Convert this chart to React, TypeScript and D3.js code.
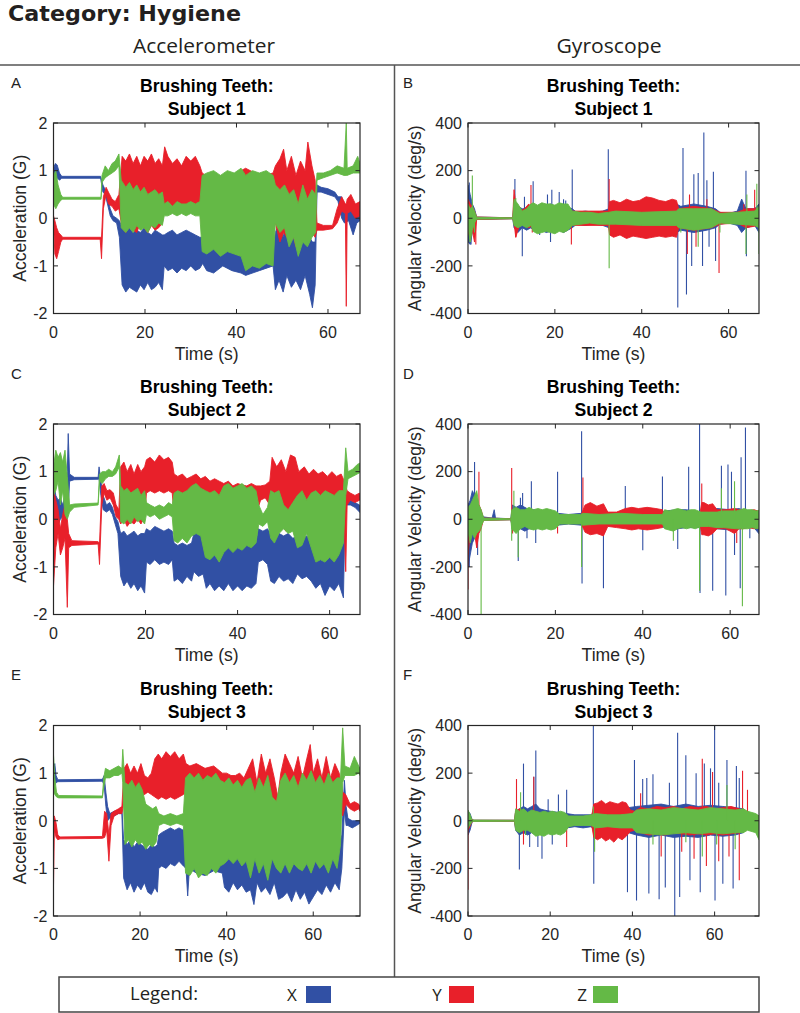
import React from 'react';
import * as d3 from 'd3';

type Env = [number, number, number][]; // [time, low, high]
type Spk = [number, number][]; // [time, value]

const SERIES = ['X', 'Y', 'Z'];
const SERIES_COLORS = ['#3150a4', '#e8202a', '#64b946'];
const X_TICKS = [0, 20, 40, 60];
const ACC_TICKS = [-2, -1, 0, 1, 2];
const GYRO_TICKS = [-400, -200, 0, 200, 400];
const SUBJECTS = ['Subject 1', 'Subject 2', 'Subject 3'];
const LETTERS = ['A', 'B', 'C', 'D', 'E', 'F'];
const DURATIONS = [67, 66.6, 70.8];

// ---------- Panel A: accelerometer, subject 1 ----------
const A_X: Env = [
  [0, 0.75, 1.05], [0.4, 0.7, 1.15], [0.8, 0.85, 1.12], [1.3, 0.8, 0.95], [1.8, 0.84, 0.88], [10.3, 0.84, 0.88],
  [10.8, 0.55, 0.7], [11.3, 0.5, 0.6], [11.8, 0.3, 0.45], [12.4, 0.05, 0.2], [13, -0.05, 0.05], [13.8, -0.1, 0.0],
  [14.4, -0.4, -0.05], [15, -1.4, -0.2], [15.8, -1.55, -0.25], [16.6, -1.45, -0.2], [17.4, -1.5, -0.3],
  [18.2, -1.55, -0.25], [19, -1.4, -0.3], [19.8, -1.5, -0.2], [20.6, -1.35, -0.3], [21.4, -1.5, -0.35],
  [22.2, -1.45, -0.25], [23, -1.35, -0.3], [23.8, -1.5, -0.35], [24.2, -1.0, -0.35], [25, -1.1, -0.3],
  [26, -1.05, -0.25], [27, -1.15, -0.35], [28, -1.05, -0.3], [29, -1.1, -0.25], [30, -1.0, -0.3], [31, -1.1, -0.35],
  [32, -1.05, -0.4], [32.6, -0.95, -0.4], [33.5, -1.1, -0.4], [35, -1.15, -0.4], [37, -1.0, -0.45], [39, -1.1, -0.4],
  [41, -1.15, -0.5], [42, -1.2, -0.6], [45, -1.1, -0.6], [48, -1.0, -0.6], [48.5, -1.5, -0.3], [49.3, -1.3, -0.1],
  [50.2, -1.55, -0.4], [51, -1.2, 0.0], [52, -1.45, -0.3], [53, -1.3, -0.05], [54, -1.5, -0.35], [55, -1.2, 0.0],
  [56, -1.6, -0.4], [56.6, -1.88, -0.5], [57.2, -1.4, -0.5], [57.6, 0.55, 0.7], [58.5, 0.55, 0.65], [60, 0.5, 0.62],
  [61.5, 0.45, 0.55], [62.2, 0.35, 0.45], [63, 0.0, 0.45], [63.6, -0.1, 0.1], [64.5, -0.05, 0.25], [65.5, -0.35, 0.2],
  [66.3, -0.1, 0.1], [67, -0.05, 0.05],
];
const A_Y: Env = [
  [0, -0.1, 0.05], [0.3, -0.75, -0.05], [0.7, -0.85, -0.2], [1.1, -0.7, -0.3], [1.6, -0.5, -0.35], [2, -0.44, -0.4],
  [10.2, -0.44, -0.4], [10.5, -0.85, -0.4], [10.9, 0.2, 0.45], [11.5, 0.5, 0.65], [12, 0.3, 0.55], [12.8, 0.25, 0.4],
  [13.5, 0.15, 0.35], [14.3, 0.2, 0.5], [15, -0.2, 1.3], [15.8, -0.3, 1.2], [16.6, -0.1, 1.35], [17.4, -0.25, 1.15],
  [18.2, -0.3, 1.3], [19, -0.1, 1.1], [19.8, -0.2, 1.3], [20.6, -0.3, 1.2], [21.4, -0.15, 1.35], [22.2, -0.25, 1.15],
  [23, -0.2, 1.25], [23.8, -0.1, 1.1], [24.3, 0.3, 1.5], [25, 0.35, 1.3], [26, 0.25, 1.15], [27, 0.3, 1.25],
  [28, 0.25, 1.1], [29, 0.3, 1.3], [30, 0.25, 1.2], [31, 0.3, 1.3], [32, 0.25, 1.1], [32.5, -0.3, 0.95],
  [34, -0.4, 0.85], [36, -0.3, 0.9], [38, -0.4, 0.85], [40, -0.3, 0.95], [42, -0.4, 1.05], [44, -0.3, 0.95],
  [46, -0.4, 0.9], [48, -0.2, 0.95], [48.5, -0.1, 1.1], [49.5, -0.5, 1.25], [50.3, -0.3, 1.45], [51, -0.4, 1.0],
  [52, -0.2, 1.3], [53, -0.6, 0.9], [54, -0.3, 1.2], [55, -0.5, 1.0], [55.6, -0.4, 1.6], [56.5, -0.3, 1.1],
  [57.2, -0.4, 0.8], [57.6, -0.25, -0.1], [59, -0.25, -0.15], [61, -0.22, -0.15], [62, -0.1, 0.2], [63, 0.15, 0.45],
  [63.8, 0.1, 0.3], [64, -1.85, 0.3], [64.2, 0.1, 0.4], [65, 0.15, 0.5], [66, 0.0, 0.3], [67, 0.05, 0.35],
];
const A_Z: Env = [
  [0, 0.3, 0.9], [0.5, 0.2, 1.0], [1, 0.3, 0.7], [1.6, 0.38, 0.5], [2, 0.4, 0.44], [10.4, 0.4, 0.44],
  [10.6, 0.75, 0.9], [11.3, 0.85, 1.1], [12, 0.9, 1.0], [12.8, 0.95, 1.15], [13.5, 1.0, 1.2], [14.3, 1.1, 1.35],
  [14.8, -0.2, 0.8], [15.8, -0.3, 0.65], [16.6, -0.2, 0.75], [17.4, -0.3, 0.6], [18.2, -0.15, 0.7], [19, -0.25, 0.55],
  [19.8, -0.2, 0.65], [20.6, -0.3, 0.5], [21.4, -0.15, 0.55], [22.2, -0.2, 0.6], [23, -0.1, 0.5], [23.8, -0.15, 0.55],
  [24.2, 0.05, 0.3], [25, 0.05, 0.35], [26, 0.1, 0.25], [27, 0.05, 0.35], [28, 0.1, 0.3], [29, 0.05, 0.3],
  [30, 0.1, 0.35], [31, 0.05, 0.3], [32, 0.05, 0.35], [32.5, -0.7, 0.9], [33.5, -0.75, 0.95], [35, -0.65, 1.0],
  [36.5, -0.8, 0.9], [38, -0.7, 1.0], [39.5, -0.75, 0.95], [41, -0.8, 1.05], [42, -1.1, 0.9], [43.5, -1.0, 1.0],
  [45, -1.05, 0.95], [46.5, -0.95, 1.0], [48, -1.0, 0.9], [48.5, -0.1, 0.7], [49.5, -0.3, 0.6], [50.5, -0.2, 0.7],
  [51.5, -0.6, 0.5], [52.5, -0.4, 0.6], [53.5, -0.8, 0.3], [54.5, -0.5, 0.7], [55.5, -0.6, 0.4], [56.5, -0.4, 0.6],
  [57.3, -0.3, 0.5], [57.6, 0.8, 0.95], [59, 0.85, 0.95], [60.5, 0.9, 1.0], [62, 0.95, 1.1], [63.5, 0.9, 1.05],
  [64, 0.9, 2.0], [64.2, 0.9, 1.05], [65.5, 0.95, 1.1], [66.5, 0.95, 1.3], [67, 0.95, 1.15],
];

// ---------- Panel B: gyroscope, subject 1 ----------
const B_X: Env = [
  [0, -100, 140], [0.5, -110, 100], [1, -60, 60], [1.5, -30, 40], [2, -5, 5], [10.3, -2, 2], [10.6, -40, 60],
  [11.5, -60, 50], [12.5, -40, 40], [13.5, -50, 40], [14.5, -40, 60], [15, -50, 50], [16, -60, 50], [17, -50, 60],
  [18, -60, 55], [19, -55, 60], [20, -60, 50], [21, -50, 55], [22, -60, 50], [23, -50, 45], [24, -40, 40],
  [25, -25, 25], [27, -30, 30], [29, -25, 25], [31, -30, 30], [32.5, -40, 40], [34, -60, 60], [40, -55, 60],
  [48, -60, 60], [49, -50, 50], [52, -60, 60], [55, -50, 50], [57, -40, 40], [58, -25, 25], [60, -20, 20],
  [62, -30, 30], [63, -60, 80], [64, -40, 40], [66, -30, 40], [67, -60, 60],
];
const B_X_SPIKES: Spk = [
  [0.3, 150], [0.7, -110], [10.8, 165], [12.5, -160], [13, 90], [15, 155], [16.5, -70], [18.3, 100], [19.3, 120],
  [19, -100], [21, 110], [22, 80], [22.5, 75], [24, 205], [32.3, 290], [48.3, -375], [49.5, 295], [50.3, -320],
  [51.5, -200], [52, 185], [53, 190], [54, -200], [54.3, 360], [55, 160], [55.5, -120], [56.5, 195], [57, -180],
  [63, 80], [64, 200], [64.1, -160],
];
const B_Y: Env = [
  [0, -60, 80], [0.5, -80, 60], [1, -50, 50], [1.5, -100, 30], [2, -5, 5], [10.3, -2, 2], [10.6, -20, 120],
  [11, -80, 60], [12, -20, 30], [13, -30, 40], [14, -40, 60], [15, -30, 30], [24, -30, 30], [32.3, -30, 30],
  [32.6, -70, 70], [33.5, -80, 75], [35, -70, 65], [36.5, -85, 80], [38, -75, 70], [39.5, -80, 75], [41, -85, 90],
  [42.5, -80, 85], [44, -75, 75], [45.5, -80, 70], [47, -75, 80], [48, -80, 75], [48.5, -40, 40], [52, -50, 50],
  [56, -40, 40], [58, -25, 25], [62, -20, 25], [64, -40, 40], [67, -30, 40],
];
const B_Y_SPIKES: Spk = [
  [1.8, -110], [11, -80], [14.5, 140], [14.8, -60], [23.8, -110], [32.5, 165], [50.5, -150], [51, 100],
  [52.5, -120], [55, 80], [57.8, -230], [63.5, 60], [66, 120],
];
const B_Z: Env = [
  [0, -40, 60], [0.5, -100, 40], [1, -50, 50], [1.5, -20, 30], [2, -4, 4], [10.3, -2, 2], [10.6, -30, 80],
  [11.5, -40, 60], [12.5, -30, 30], [13.5, -40, 40], [14.5, -30, 60], [15, -55, 65], [16, -65, 55], [17, -60, 65],
  [18, -55, 60], [19, -60, 60], [20, -65, 55], [21, -55, 65], [22, -60, 60], [23, -50, 60], [24, -30, 30],
  [26, -25, 25], [28, -20, 25], [30, -25, 20], [32.4, -25, 25], [34, -25, 30], [40, -30, 25], [48, -30, 30],
  [48.5, -40, 40], [52, -50, 40], [56, -40, 40], [58, -20, 20], [62, -25, 25], [66, -30, 30], [67, -40, 50],
];
const B_Z_SPIKES: Spk = [
  [0.5, -100], [1, 180], [1.5, -60], [11, 85], [32.5, -210], [49, -60], [53, -120], [58, -60], [64, -150],
  [64.2, 100], [66.5, 145], [67, -150],
];

// ---------- Panel C: accelerometer, subject 2 ----------
const C_X: Env = [
  [0, 0.3, 0.8], [0.5, 0.1, 0.5], [1, -0.1, 0.4], [1.5, 0.0, 0.45], [2, 0.05, 0.3], [2.5, 0.2, 0.5], [3, 0.1, 1.0],
  [3.2, 0.2, 1.8], [3.5, 0.8, 0.95], [4.5, 0.83, 0.88], [9.7, 0.84, 0.88], [9.9, 0.85, 1.1], [10.3, 0.5, 0.8],
  [10.8, 0.2, 0.5], [11.5, 0.15, 0.3], [12.2, 0.2, 0.35], [12.8, 0.1, 0.25], [13.4, -0.1, 0.05], [14, -0.3, -0.05],
  [14.6, -1.2, -0.3], [15.3, -1.4, -0.25], [16, -1.3, -0.35], [16.8, -1.45, -0.3], [17.5, -1.35, -0.25],
  [18.3, -1.5, -0.35], [19, -1.4, -0.3], [19.8, -1.55, -0.3], [20.2, -0.9, -0.2], [21, -0.95, -0.25],
  [22, -0.85, -0.15], [23, -0.95, -0.2], [24, -0.9, -0.25], [25, -0.95, -0.2], [25.8, -0.85, -0.25],
  [26.2, -1.3, -0.5], [27, -1.25, -0.55], [28, -1.35, -0.5], [29, -1.2, -0.55], [30, -1.3, -0.5], [30.5, -1.1, -0.3],
  [31.5, -1.2, -0.25], [32.5, -1.15, -0.35], [33.2, -1.45, -0.4], [34, -1.35, -0.5], [35, -1.5, -0.45],
  [36, -1.4, -0.5], [37, -1.5, -0.55], [38, -1.35, -0.45], [39, -1.5, -0.5], [40, -1.4, -0.45], [41, -1.5, -0.55],
  [42, -1.4, -0.5], [43, -1.45, -0.45], [44, -1.35, -0.5], [44.5, -0.9, -0.2], [45.5, -0.85, -0.25],
  [46.5, -0.95, -0.2], [47.2, -1.3, -0.3], [48, -1.35, -0.4], [49, -1.2, -0.3], [50, -1.3, -0.35], [51, -1.25, -0.3],
  [52, -1.35, -0.4], [53, -1.15, -0.35], [54, -1.25, -0.4], [55, -1.2, -0.35], [56, -1.3, -0.4], [57, -1.45, -0.35],
  [58, -1.35, -0.45], [59, -1.6, -0.4], [60, -1.4, -0.45], [61, -1.5, -0.4], [62, -1.35, -0.5], [63, -1.65, -0.4],
  [63.4, 0.3, 0.45], [64.5, 0.3, 0.4], [65.5, 0.25, 0.35], [66.5, 0.15, 0.3], [67, 0.1, 0.25],
];
const C_Y: Env = [
  [0, -1.4, 0.6], [0.5, -0.6, 0.4], [1, -0.3, 0.2], [1.5, -0.75, -0.2], [2, -0.6, 0.1], [2.5, -0.4, 0.3],
  [3, -1.85, 0.0], [3.3, -0.6, -0.3], [4, -0.55, -0.45], [9.7, -0.52, -0.47], [10, -0.95, -0.5], [10.5, 0.3, 0.7],
  [11, 0.55, 0.75], [11.6, 0.4, 0.6], [12.3, 0.45, 0.62], [13, 0.3, 0.55], [13.6, 0.05, 0.3], [14.2, 0.0, 0.2],
  [14.6, -0.1, 1.1], [15.3, 0.0, 1.2], [16, -0.15, 1.0], [16.8, -0.05, 1.15], [17.5, -0.1, 0.95], [18.3, 0.0, 1.15],
  [19, -0.1, 1.0], [19.8, 0.05, 1.1], [20.2, 0.55, 1.25], [21, 0.6, 1.3], [22, 0.55, 1.2], [23, 0.6, 1.35],
  [24, 0.55, 1.25], [25, 0.6, 1.3], [25.8, 0.55, 1.2], [26.2, 0.1, 0.95], [27, 0.2, 0.9], [28, 0.1, 0.95],
  [29, 0.2, 0.85], [30, 0.15, 0.9], [31, 0.2, 0.95], [32, 0.1, 0.85], [33, 0.2, 0.9], [34, 0.15, 0.8],
  [35, 0.2, 0.85], [36, 0.1, 0.8], [37, 0.2, 0.75], [38, 0.15, 0.8], [39, 0.2, 0.7], [40, 0.1, 0.75],
  [41, 0.2, 0.72], [42, 0.15, 0.7], [43, 0.2, 0.75], [44, 0.1, 0.7], [45, 0.4, 0.7], [46, 0.45, 0.72],
  [47, 0.3, 0.8], [47.5, 0.1, 1.3], [48.5, 0.0, 1.1], [49.5, -0.1, 1.25], [50.5, -0.25, 1.0], [51.5, -0.2, 1.35],
  [52.5, 0.0, 1.3], [53.3, 0.2, 1.0], [54.5, 0.1, 1.1], [55.5, 0.2, 0.95], [56.5, 0.1, 1.05], [57.5, 0.2, 0.95],
  [58.5, 0.1, 1.0], [59.5, 0.2, 0.9], [60.5, 0.15, 1.0], [61.5, 0.1, 0.9], [62.5, 0.2, 0.95], [63.2, -0.2, 0.8],
  [63.5, -1.1, 0.7], [63.8, 0.3, 0.6], [64.5, 0.4, 0.55], [65.5, 0.35, 0.5], [66.5, 0.4, 0.55], [67, 0.4, 0.5],
];
const C_Z: Env = [
  [0, 0.5, 1.1], [0.5, 0.6, 1.45], [1, 0.8, 1.3], [1.5, 0.3, 1.4], [2, 0.6, 1.2], [2.5, 0.1, 1.45], [3, 0.0, 0.9],
  [3.5, 0.15, 0.3], [4.5, 0.25, 0.32], [9.7, 0.3, 0.34], [10, 0.8, 0.95], [10.6, 0.75, 1.0], [11.3, 0.85, 1.0],
  [12, 0.9, 1.05], [12.8, 0.9, 1.0], [13.5, 0.95, 1.1], [14.3, 1.1, 1.35], [14.6, -0.05, 0.7], [15.3, -0.1, 0.6],
  [16, 0.0, 0.65], [16.8, -0.1, 0.55], [17.5, 0.05, 0.6], [18.3, -0.05, 0.65], [19, 0.0, 0.5], [19.8, -0.1, 0.6],
  [20.2, 0.1, 0.35], [21, 0.05, 0.3], [22, 0.1, 0.25], [23, 0.0, 0.3], [24, 0.05, 0.25], [25, 0.1, 0.35],
  [25.8, 0.05, 0.3], [26.2, -0.45, 0.55], [27, -0.5, 0.6], [28, -0.4, 0.55], [29, -0.5, 0.6], [30, -0.35, 0.7],
  [31, -0.3, 0.75], [32, -0.35, 0.65], [33, -0.8, 0.6], [34, -0.85, 0.55], [35, -0.75, 0.6], [36, -0.9, 0.5],
  [37, -0.7, 0.7], [38, -0.6, 0.75], [39, -0.7, 0.65], [40, -0.6, 0.7], [41, -0.65, 0.75], [42, -0.55, 0.65],
  [43, -0.6, 0.7], [44, -0.5, 0.6], [44.6, -0.1, 0.3], [45.5, -0.15, 0.1], [46.5, -0.05, 0.25], [47.2, -0.4, 0.6],
  [48, -0.5, 0.55], [49, -0.3, 0.6], [50, -0.2, 0.3], [51, -0.3, 0.2], [52, -0.25, 0.35], [53, -0.6, 0.5],
  [54, -0.55, 0.6], [55, -0.3, 0.4], [56, -0.6, 0.55], [57, -0.9, 0.6], [58, -0.85, 0.5], [59, -0.9, 0.6],
  [60, -0.8, 0.55], [61, -0.9, 0.5], [62, -0.75, 0.6], [63, -0.5, 0.6], [63.5, 0.5, 1.5], [64, 0.85, 1.0],
  [65, 0.9, 1.05], [66, 0.95, 1.15], [67, 1.0, 1.2],
];

// ---------- Panel D: gyroscope, subject 2 ----------
const D_X: Env = [
  [0, -200, 60], [0.5, -150, 80], [1, -100, 120], [1.5, -80, 100], [2, -60, 60], [2.5, -40, 40], [3, -20, 30],
  [3.5, -5, 10], [5.5, -3, 5], [6, -3, 40], [6.3, -3, 5], [9.8, -2, 2], [10.2, -40, 60], [11, -50, 50],
  [12, -40, 60], [13, -50, 50], [14, -40, 40], [15, -40, 40], [17, -30, 35], [19, -35, 30], [20.5, -25, 25],
  [23, -20, 20], [26, -25, 25], [28, -30, 30], [32, -25, 25], [36, -30, 30], [40, -25, 30], [44, -30, 25],
  [45, -35, 35], [48, -40, 40], [50, -35, 40], [53, -35, 30], [55, -40, 35], [57, -40, 45], [60, -45, 40],
  [62, -40, 45], [63.5, -35, 35], [65, -25, 25], [67, -70, 20],
];
const D_X_SPIKES: Spk = [
  [0.3, -200], [1.5, 240], [2.2, -150], [11.5, -175], [12, 90], [12.5, 110], [13.5, -80], [14.5, 160],
  [15.5, -100], [20.5, 200], [26, 370], [26.1, -270], [31, -290], [36, 140], [40, -130], [44.5, 180],
  [48, -125], [50.5, 220], [53, 400], [53.1, -310], [56, -300], [58, 225], [59, -320], [59.5, 230], [60.3, 200],
  [61, -150], [62.3, -290], [62.5, 260], [63.5, 385], [64.5, -80],
];
const D_Y: Env = [
  [0, -150, 50], [0.5, -60, 40], [1, -40, 30], [1.5, -60, 40], [2, -120, 60], [2.5, -60, 60], [3, -40, 40],
  [3.5, -5, 5], [9.8, -2, 2], [10.3, -40, 30], [11, -30, 20], [12, 0, 25], [13, 5, 20], [14, -20, 20],
  [15, -20, 20], [20, -20, 20], [21, -15, 15], [25.8, -15, 15], [26.8, -55, 60], [28, -65, 70], [29.5, -60, 55],
  [31, -70, 65], [32, -30, 30], [34, -35, 30], [36, -40, 45], [37.5, -45, 50], [39, -40, 45], [41, -45, 50],
  [43, -40, 45], [44.5, -35, 40], [45, -15, 15], [53, -15, 15], [53.5, -65, 70], [54, -65, 70], [55, -70, 60],
  [56, -60, 65], [57, -40, 40], [59, -40, 40], [61, -60, 45], [62, -40, 40], [63, -40, 40], [64, -35, 35],
  [65.5, -40, 40], [67, -35, 30],
];
const D_Y_SPIKES: Spk = [
  [0, -295], [2, -120], [2.5, 200], [10, 215], [10.2, -60], [20.5, -60], [26.3, 175], [53.5, 150], [61.5, -100],
];
const D_Z: Env = [
  [0, -50, 50], [0.5, -100, 60], [1, -60, 80], [1.5, -80, 100], [2, -60, 120], [2.5, -50, 60], [3, -30, 40],
  [3.6, -5, 5], [9.8, -2, 2], [10, -40, 40], [11, -60, 50], [12, -40, 40], [13, -30, 40], [14, -40, 50],
  [15, -45, 40], [16, -40, 45], [17, -45, 40], [18, -40, 45], [19, -45, 40], [20, -40, 35], [21, -20, 20],
  [25.8, -20, 20], [26.3, -25, 25], [30, -20, 20], [35, -20, 25], [40, -20, 20], [44.5, -20, 20], [45, -40, 40],
  [46, -45, 35], [47, -50, 40], [48, -40, 45], [49, -35, 40], [50, -40, 35], [51, -35, 40], [52, -40, 40],
  [53.3, -30, 30], [55, -30, 30], [57, -35, 30], [58.4, -35, 35], [61.4, -40, 35], [63.2, -40, 45], [64, -40, 40],
  [65, -35, 40], [66, -40, 35], [67, -35, 40],
];
const D_Z_SPIKES: Spk = [
  [3, -400], [10, -90], [10.5, 120], [11.5, -160], [26, -200], [47, -90], [53, -300], [58, 130], [61, 160],
  [62.8, -365],
];

// ---------- Panel E: accelerometer, subject 3 ----------
const E_X: Env = [
  [0, 0.8, 1.1], [0.3, 0.75, 1.2], [0.6, 0.8, 0.95], [1, 0.82, 0.86], [11.3, 0.83, 0.87], [11.7, 0.75, 0.95],
  [12.1, 0.3, 0.6], [12.5, 0.0, 0.3], [13, 0.05, 0.15], [14, 0.1, 0.2], [15, 0.15, 0.2], [15.8, 0.15, 0.25],
  [16.2, -1.2, -0.4], [17, -1.45, -0.5], [17.8, -1.3, -0.4], [18.6, -1.5, -0.55], [19.4, -1.35, -0.45],
  [20.2, -1.45, -0.5], [21, -1.3, -0.55], [21.8, -1.5, -0.6], [22.6, -1.55, -0.5], [23.4, -1.4, -0.55],
  [24, -1.5, -0.5], [24.3, -1.0, -0.3], [25, -0.95, -0.25], [26, -1.0, -0.2], [27, -0.9, -0.15], [28, -0.95, -0.2],
  [29, -0.85, -0.15], [30, -0.95, -0.2], [30.6, -1.0, -0.3], [31, -1.58, -0.3], [31.4, -1.0, -0.3],
  [33, -1.1, -0.4], [35, -1.15, -0.4], [37, -1.05, -0.4], [39, -1.1, -0.5], [39.5, -1.4, -0.5], [40.5, -1.5, -0.6],
  [41.5, -1.3, -0.5], [42.5, -1.45, -0.6], [43.5, -1.35, -0.5], [44.5, -1.5, -0.55], [45.5, -1.45, -0.6],
  [46.3, -1.76, -0.5], [47, -1.3, -0.6], [48, -1.5, -0.55], [49, -1.4, -0.5], [50, -1.55, -0.6], [51, -1.3, -0.45],
  [52, -1.65, -0.7], [53, -1.6, -0.9], [54, -1.5, -0.85], [55, -1.7, -0.9], [56, -1.45, -0.8], [57, -1.65, -0.95],
  [58, -1.5, -0.8], [59, -1.75, -0.9], [60, -1.6, -0.8], [61, -1.45, -0.6], [62, -1.55, -0.5], [63, -1.35, -0.55],
  [64, -1.5, -0.5], [65, -1.3, -0.45], [66, -1.45, -0.5], [66.6, -1.0, -0.3], [67.2, 0.2, 0.85], [67.6, -0.1, 0.3],
  [68, -0.1, 0.05], [69, -0.15, 0.0], [70, -0.1, 0.0], [70.8, -0.05, 0.0],
];
const E_Y: Env = [
  [0, -1.35, 0.1], [0.2, -0.2, 0.1], [0.6, -0.35, -0.05], [1, -0.4, -0.3], [1.5, -0.38, -0.34],
  [11.3, -0.37, -0.33], [11.8, -0.35, 0.2], [12.3, -0.2, 0.15], [12.8, -0.85, -0.3], [13.3, -0.1, 0.15],
  [14, 0.1, 0.2], [15, 0.15, 0.25], [15.8, 0.15, 0.3], [16.3, 0.4, 1.1], [17, 0.45, 1.2], [17.8, 0.35, 1.0],
  [18.6, 0.5, 1.15], [19.4, 0.4, 1.0], [20.2, 0.5, 1.2], [21, 0.55, 0.95], [21.8, 0.6, 0.9], [22.6, 0.55, 1.0],
  [23.4, 0.5, 1.3], [24.2, 0.45, 1.4], [25, 0.5, 1.3], [26, 0.45, 1.45], [27, 0.5, 1.35], [28, 0.45, 1.45],
  [29, 0.5, 1.3], [30, 0.55, 1.4], [30.6, 0.6, 1.2], [31.5, 0.4, 1.15], [33, 0.3, 1.2], [35, 0.4, 1.1],
  [37, 0.3, 1.15], [39, 0.4, 1.0], [40, 0.3, 1.0], [41, 0.4, 0.95], [42, 0.2, 0.95], [43, 0.3, 1.0],
  [44, 0.2, 0.9], [45, 0.1, 1.1], [46, 0.3, 1.3], [47, 0.2, 0.8], [48, 0.0, 1.4], [49, 0.3, 1.0], [50, 0.1, 1.3],
  [51, -0.3, 0.9], [51.8, -0.6, 0.5], [52.5, 0.0, 1.0], [53.5, 0.3, 1.4], [54.5, 0.2, 1.2], [55.5, 0.4, 1.0],
  [56.5, 0.1, 1.35], [57.5, 0.3, 0.9], [58.5, 0.2, 1.3], [59.3, 0.3, 1.6], [60, 0.2, 1.0], [61, 0.3, 1.3],
  [62, 0.1, 0.9], [63, 0.3, 1.35], [64, 0.2, 0.9], [65, 0.3, 1.2], [66, 0.2, 1.0], [66.8, 0.1, 0.6],
  [67.5, 0.35, 0.55], [68.5, 0.25, 0.35], [69.5, 0.2, 0.4], [70.5, 0.25, 0.35], [70.8, 0.2, 0.3],
];
const E_Z: Env = [
  [0, 0.6, 1.38], [0.3, 0.55, 0.9], [0.7, 0.5, 0.6], [1.2, 0.48, 0.53], [11.3, 0.48, 0.52], [11.6, 0.7, 0.9],
  [12, 0.9, 1.1], [13, 0.9, 1.05], [14, 0.95, 1.1], [15, 0.95, 1.15], [15.8, 1.0, 1.1], [16, 0.8, 1.5],
  [16.5, -0.5, 0.8], [17.3, -0.4, 0.75], [18.1, -0.55, 0.85], [18.9, -0.4, 0.7], [19.7, -0.5, 0.8],
  [20.5, -0.45, 0.65], [21.3, -0.6, 0.35], [22.1, -0.5, 0.3], [22.9, -0.55, 0.25], [23.7, -0.45, 0.3],
  [24.3, -0.1, 0.15], [25.5, -0.05, 0.1], [27, -0.1, 0.15], [28.5, -0.05, 0.1], [30, -0.1, 0.15],
  [30.5, -1.1, 0.9], [31.5, -1.15, 1.0], [32.5, -1.0, 0.9], [33.5, -1.2, 1.0], [34.5, -1.1, 0.85],
  [35.5, -1.15, 0.95], [36.5, -1.0, 0.9], [37.5, -1.1, 1.0], [38.5, -0.95, 0.85], [39.5, -0.9, 0.8],
  [40.5, -0.8, 0.9], [41.5, -0.9, 0.75], [42.5, -0.8, 0.85], [43.5, -0.95, 0.7], [44.5, -0.85, 0.85],
  [45.5, -1.2, 0.9], [46.5, -0.8, 0.6], [47.5, -1.1, 0.9], [48.5, -0.9, 0.7], [49.5, -1.25, 0.95],
  [50.5, -0.8, 0.5], [51.5, -1.0, 0.4], [52.5, -1.1, 0.85], [53.5, -0.9, 1.0], [54.5, -1.1, 0.8],
  [55.5, -0.9, 0.95], [56.5, -1.0, 0.7], [57.5, -1.05, 1.0], [58.5, -0.9, 0.85], [59.5, -1.1, 1.05],
  [60.5, -0.85, 0.8], [61.5, -1.0, 0.95], [62.5, -0.9, 0.75], [63.5, -1.1, 1.0], [64.5, -0.8, 0.8],
  [65.5, -1.0, 0.9], [66.3, -0.5, 0.9], [66.8, 0.8, 1.95], [67.3, 0.95, 1.15], [68.5, 0.95, 1.1],
  [69.5, 0.95, 1.35], [70.5, 1.0, 1.15], [70.8, 0.95, 1.1],
];

// ---------- Panel F: gyroscope, subject 3 ----------
const F_X: Env = [
  [0, -60, 40], [0.5, -40, 30], [1, -5, 5], [1.5, -2, 2], [11.3, -2, 2], [11.6, -40, 40], [12.5, -60, 50],
  [13.5, -50, 60], [14.5, -60, 50], [15.5, -50, 60], [16.5, -60, 70], [17.5, -50, 50], [18.5, -40, 45],
  [20, -35, 40], [22, -40, 35], [24, -30, 30], [26, -25, 25], [28, -30, 25], [30, -25, 25], [31, -50, 50],
  [33, -50, 55], [35, -60, 60], [37, -55, 50], [39, -50, 55], [41, -60, 60], [44, -70, 65], [47, -60, 70],
  [50, -70, 60], [53, -65, 70], [56, -70, 60], [59, -60, 65], [62, -65, 60], [65, -60, 55], [67, -50, 50],
  [68, -30, 30], [70, -25, 25], [70.8, -30, 20],
];
const F_X_SPIKES: Spk = [
  [12.5, -205], [13.5, 240], [15, -110], [16, 185], [16.5, 295], [17, -110], [18, -160], [19.5, 90],
  [20.5, -100], [22, 110], [24, 130], [30.5, 400], [30.6, -265], [38.8, -300], [40.5, 255], [41, -335],
  [42.5, 175], [43.5, 180], [44, -305], [45, 195], [46.5, -330], [48, -280], [49, 160], [50.3, -400], [51, 370],
  [51.5, -320], [53, 275], [54, -250], [55.5, 200], [56.5, -300], [57.5, 240], [59, 220], [60, 400],
  [60.1, -335], [61, 160], [62, -265], [63, 255], [64.5, -285], [65.3, 230], [66, 180],
];
const F_Y: Env = [
  [0, -40, 10], [0.3, -30, 20], [0.8, -10, 10], [1.2, -2, 2], [11.3, -2, 2], [11.6, -30, 40], [12.5, -40, 50],
  [13.5, -40, 40], [14.5, -30, 30], [16, -40, 40], [18, -30, 30], [20, -30, 25], [22, -25, 30], [24, -20, 20],
  [26, -10, 10], [30, -10, 10], [30.6, -70, 70], [31.5, -80, 75], [32.5, -70, 85], [33.5, -85, 70],
  [34.5, -75, 80], [35.5, -90, 75], [36.5, -70, 70], [37.5, -80, 80], [38.5, -65, 75], [39.5, -45, 45],
  [40.5, -40, 40], [42, -50, 55], [44, -60, 50], [46, -55, 60], [48, -60, 55], [50, -50, 60], [52, -55, 50],
  [54, -60, 60], [56, -55, 55], [58, -60, 60], [60, -55, 50], [62, -60, 55], [64, -55, 60], [66, -50, 50],
  [68, -30, 30], [70, -25, 25], [70.8, -30, 20],
];
const F_Y_SPIKES: Spk = [
  [0, -290], [11.8, 175], [13.5, -100], [16, 185], [24, -110], [42, 115], [47, -150], [52, -130], [55, -160],
  [57, 260], [58, -190], [59.5, 205], [61, -170], [63.5, -150], [66, -250], [66.8, 210], [68, 130],
];
const F_Z: Env = [
  [0, -30, 45], [0.4, -20, 30], [1, -3, 3], [11.3, -2, 2], [11.6, -40, 50], [12.5, -50, 40], [13.5, -40, 50],
  [14.5, -40, 35], [15.5, -50, 45], [16.5, -65, 40], [17.5, -60, 35], [18.5, -65, 40], [19.5, -55, 35],
  [20.5, -60, 40], [21.5, -55, 35], [22.5, -60, 40], [23.5, -50, 35], [24.5, -25, 20], [26, -20, 20],
  [28, -20, 20], [30, -20, 25], [31, -30, 30], [34, -25, 25], [37, -30, 25], [40, -30, 30], [41, -50, 45],
  [44, -55, 50], [47, -60, 45], [50, -55, 55], [53, -50, 50], [56, -55, 45], [59, -50, 55], [62, -55, 50],
  [65, -50, 45], [67, -50, 50], [68, -40, 40], [70, -50, 30], [70.8, -80, 20],
];
const F_Z_SPIKES: Spk = [
  [12.8, 120], [14, -60], [30.5, 60], [30.8, -130], [45, -100], [53, -90], [57, -150], [60.5, -100], [63, 150],
  [65, -120],
];

const PANELS = [
  { env: [A_X, A_Y, A_Z], spikes: [[], [], []] as Spk[], gyro: false, row: 0 },
  { env: [B_X, B_Y, B_Z], spikes: [B_X_SPIKES, B_Y_SPIKES, B_Z_SPIKES], gyro: true, row: 0 },
  { env: [C_X, C_Y, C_Z], spikes: [[], [], []] as Spk[], gyro: false, row: 1 },
  { env: [D_X, D_Y, D_Z], spikes: [D_X_SPIKES, D_Y_SPIKES, D_Z_SPIKES], gyro: true, row: 1 },
  { env: [E_X, E_Y, E_Z], spikes: [[], [], []] as Spk[], gyro: false, row: 2 },
  { env: [F_X, F_Y, F_Z], spikes: [F_X_SPIKES, F_Y_SPIKES, F_Z_SPIKES], gyro: true, row: 2 },
];

const ROW_TOPS = [123, 424, 725.5];
const PLOT_H = 190.5;
const COLS = [
  { left: 53.5, right: 360, ylabX: 26, letterX: 11 },
  { left: 468, right: 759, ylabX: 421, letterX: 403 },
];
const LETTER_Y = [88, 379, 680];
const AX = '#262626';
const ARIAL = "'Liberation Sans', Arial, sans-serif";
const MYRIAD = "'Open Sans', sans-serif";

function Panel({ p, i }: { p: (typeof PANELS)[number]; i: number }) {
  const col = COLS[i % 2];
  const top = ROW_TOPS[p.row];
  const bottom = top + PLOT_H;
  const x = d3.scaleLinear().domain([0, DURATIONS[p.row]]).range([col.left, col.right]);
  const y = d3.scaleLinear().domain(p.gyro ? [-400, 400] : [-2, 2]).range([bottom, top]);
  const yTicks = p.gyro ? GYRO_TICKS : ACC_TICKS;
  const area = d3
    .area<[number, number, number]>()
    .x((d) => x(d[0]))
    .y0((d) => y(d[1]))
    .y1((d) => y(d[2]));
  const line = d3
    .line<[number, number]>()
    .x((d) => x(d[0]))
    .y((d) => y(d[1]));
  const clipId = `clip-${i}`;
  const cx = (col.left + col.right) / 2;
  const tl = 4.5;
  return (
    <g>
      <defs>
        <clipPath id={clipId}>
          <rect x={col.left} y={top} width={col.right - col.left} height={PLOT_H} />
        </clipPath>
      </defs>
      <text x={col.letterX} y={LETTER_Y[p.row]} fontFamily={ARIAL} fontSize={15} fill="#222">
        {LETTERS[i]}
      </text>
      <text x={cx} y={top - 31} textAnchor="middle" fontFamily={ARIAL} fontWeight="bold" fontSize={17.6} fill="#000">
        Brushing Teeth:
      </text>
      <text x={cx} y={top - 8} textAnchor="middle" fontFamily={ARIAL} fontWeight="bold" fontSize={17.6} fill="#000">
        {SUBJECTS[p.row]}
      </text>
      <g clipPath={`url(#${clipId})`}>
        {SERIES.map((s, k) => (
          <g key={s}>
            <path
              d={area(p.env[k]) || ''}
              fill={SERIES_COLORS[k]}
              stroke={SERIES_COLORS[k]}
              strokeWidth={0.9}
              strokeLinejoin="round"
            />
            {p.spikes[k].map((sp, j) => (
              <path
                key={j}
                d={line([[sp[0], 0], [sp[0], sp[1]]]) || ''}
                stroke={SERIES_COLORS[k]}
                strokeWidth={1.1}
                fill="none"
              />
            ))}
          </g>
        ))}
      </g>
      <rect x={col.left} y={top} width={col.right - col.left} height={PLOT_H} fill="none" stroke={AX} strokeWidth={1.2} />
      {X_TICKS.map((t) => (
        <g key={`xt${t}`}>
          <line x1={x(t)} x2={x(t)} y1={bottom} y2={bottom - tl} stroke={AX} strokeWidth={1} />
          <line x1={x(t)} x2={x(t)} y1={top} y2={top + tl} stroke={AX} strokeWidth={1} />
          <text x={x(t)} y={bottom + 24} textAnchor="middle" fontFamily={ARIAL} fontSize={16} fill={AX}>
            {t}
          </text>
        </g>
      ))}
      {yTicks.map((t) => (
        <g key={`yt${t}`}>
          <line x1={col.left} x2={col.left + tl} y1={y(t)} y2={y(t)} stroke={AX} strokeWidth={1} />
          <line x1={col.right} x2={col.right - tl} y1={y(t)} y2={y(t)} stroke={AX} strokeWidth={1} />
          <text x={col.left - 6} y={y(t)} dy="0.36em" textAnchor="end" fontFamily={ARIAL} fontSize={16} fill={AX}>
            {t}
          </text>
        </g>
      ))}
      <text x={cx} y={bottom + 46} textAnchor="middle" fontFamily={ARIAL} fontSize={17.6} fill={AX}>
        Time (s)
      </text>
      <text
        transform={`translate(${col.ylabX},${(top + bottom) / 2}) rotate(-90)`}
        textAnchor="middle"
        fontFamily={ARIAL}
        fontSize={17.6}
        fill={AX}
      >
        {p.gyro ? 'Angular Velocity (deg/s)' : 'Acceleration (G)'}
      </text>
    </g>
  );
}

const LEGEND_ITEMS = [
  { label: 'X', lx: 292, sx: 306 },
  { label: 'Y', lx: 437, sx: 449 },
  { label: 'Z', lx: 582, sx: 593 },
];

export default function App() {
  return (
    <svg
      width={800}
      height={1013}
      viewBox="0 0 800 1013"
      style={{ position: 'absolute', left: 0, top: 0, background: '#fff' }}
    >
      <rect x={0} y={0} width={800} height={1013} fill="#fff" />
      <text x={8} y={21} fontFamily="'DejaVu Sans', sans-serif" fontWeight="bold" fontSize={21} fill="#231f20" textLength={233} lengthAdjust="spacingAndGlyphs">
        Category: Hygiene
      </text>
      <text x={204} y={53} textAnchor="middle" fontFamily={MYRIAD} fontSize={20} fill="#231f20" textLength={142} lengthAdjust="spacingAndGlyphs">
        Accelerometer
      </text>
      <text x={609} y={53} textAnchor="middle" fontFamily={MYRIAD} fontSize={20} fill="#231f20" textLength={105} lengthAdjust="spacingAndGlyphs">
        Gyroscope
      </text>
      <line x1={0} x2={800} y1={65} y2={65} stroke="#555" strokeWidth={1.5} />
      <line x1={394.5} x2={394.5} y1={65} y2={977} stroke="#555" strokeWidth={1.5} />
      {PANELS.map((p, i) => (
        <Panel key={i} p={p} i={i} />
      ))}
      <rect x={59} y={977} width={700} height={35} fill="#fff" stroke="#444" strokeWidth={1.5} />
      <text x={130} y={1000} fontFamily={MYRIAD} fontSize={18} fill="#231f20" textLength={68} lengthAdjust="spacingAndGlyphs">
        Legend:
      </text>
      {LEGEND_ITEMS.map((it, k) => (
        <g key={it.label}>
          <text x={it.lx} y={1001} textAnchor="middle" fontFamily={MYRIAD} fontSize={17} fill="#231f20">
            {it.label}
          </text>
          <rect x={it.sx} y={986} width={25} height={17} fill={SERIES_COLORS[k]} />
        </g>
      ))}
    </svg>
  );
}
